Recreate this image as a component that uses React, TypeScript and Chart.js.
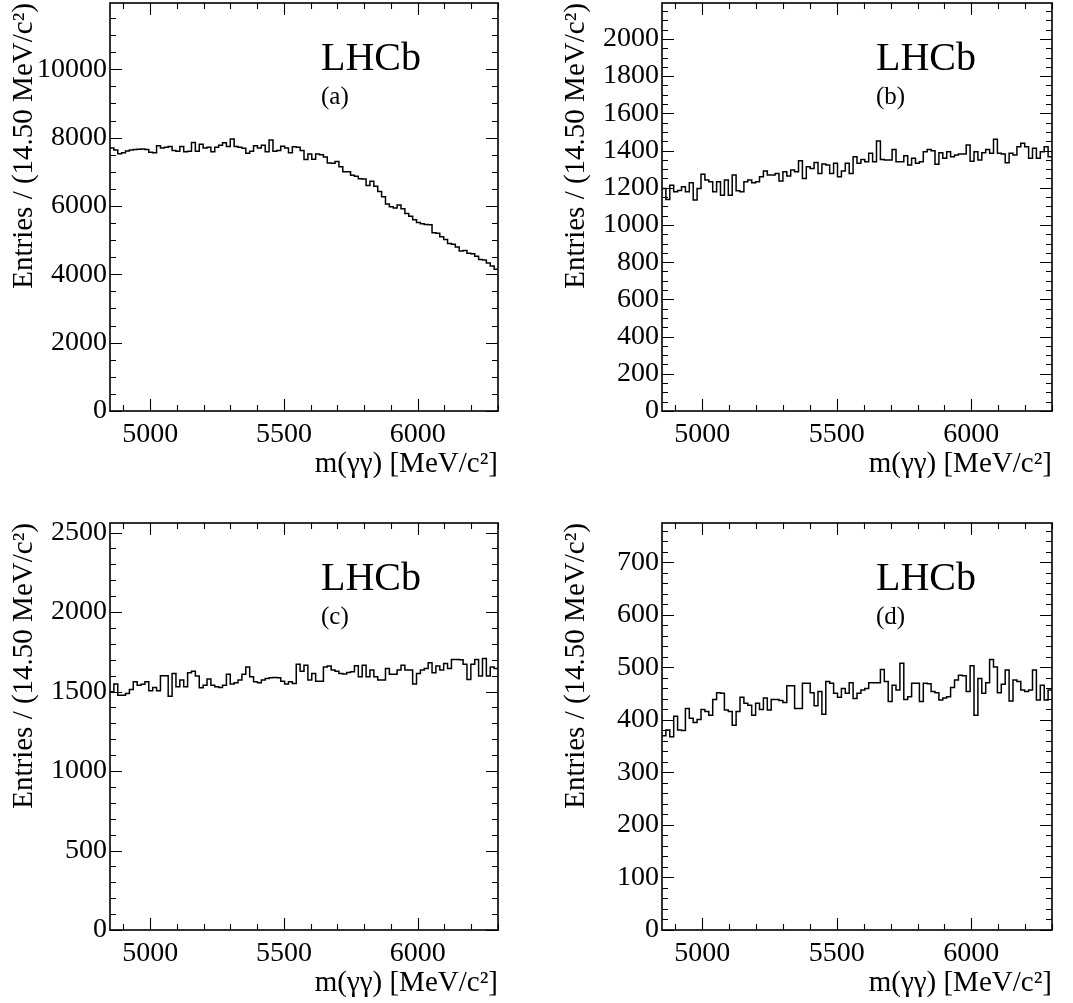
import { useEffect, useRef } from 'react';
import { Chart, registerables } from 'chart.js';

Chart.register(...registerables);

// ---------------- data ----------------
const X_MIN = 4850;
const X_MAX = 6300;
const BIN_WIDTH = 14.5;
const xTickValues = [5000, 5500, 6000];
const X_MINOR_STEP = 100;

const experimentLabel = 'LHCb';
const panelTags = ['(a)', '(b)', '(c)', '(d)'];
const yAxisTitle = 'Entries / (14.50 MeV/c\u00B2)';
const xAxisTitle = 'm(\u03B3\u03B3) [MeV/c\u00B2]';

const countsA = [
  7700, 7640, 7530, 7560, 7610, 7640, 7650, 7660, 7670, 7650,
  7570, 7560, 7760, 7700, 7720, 7740, 7620, 7600, 7740, 7590,
  7600, 7860, 7600, 7810, 7700, 7720, 7590, 7720, 7780, 7850,
  7740, 7960, 7740, 7720, 7690, 7540, 7600, 7760, 7700, 7780,
  7590, 7930, 7600, 7620, 7750, 7700, 7560, 7730, 7720, 7620,
  7360, 7520, 7370, 7520, 7500, 7430, 7260, 7250, 7300, 7150,
  7000, 7000, 6900, 6870, 6800, 6790, 6600, 6720, 6580, 6420,
  6270, 6060, 5980, 5940, 6030, 5920, 5780, 5700, 5600, 5520,
  5480, 5460, 5450, 5220, 5200, 5100, 5020, 4900, 4880, 4800,
  4680, 4700, 4620, 4600, 4530, 4430, 4420, 4330, 4240, 4150,
];
const countsB = [
  1196, 1137, 1214, 1178, 1185, 1205, 1178, 1227, 1134, 1196,
  1272, 1241, 1232, 1178, 1232, 1160, 1241, 1160, 1268, 1184,
  1178, 1232, 1241, 1227, 1232, 1259, 1290, 1268, 1268, 1277,
  1236, 1286, 1263, 1295, 1286, 1345, 1250, 1313, 1304, 1336,
  1277, 1327, 1322, 1277, 1331, 1259, 1290, 1331, 1277, 1367,
  1331, 1352, 1340, 1385, 1340, 1451, 1352, 1349, 1349, 1406,
  1340, 1340, 1372, 1322, 1358, 1331, 1340, 1394, 1406, 1399,
  1326, 1388, 1358, 1394, 1367, 1376, 1381, 1381, 1430, 1343,
  1394, 1349, 1388, 1406, 1385, 1460, 1385, 1381, 1335, 1385,
  1376, 1421, 1439, 1421, 1358, 1412, 1358, 1394, 1421, 1367,
];
const countsC = [
  1498, 1547, 1477, 1477, 1488, 1513, 1561, 1540, 1545, 1561,
  1505, 1526, 1505, 1599, 1599, 1471, 1614, 1530, 1572, 1530,
  1618, 1628, 1597, 1523, 1540, 1578, 1540, 1530, 1526, 1540,
  1609, 1547, 1555, 1572, 1609, 1655, 1593, 1561, 1555, 1572,
  1582, 1586, 1588, 1586, 1565, 1547, 1561, 1550, 1672, 1628,
  1666, 1572, 1614, 1565, 1565, 1655, 1660, 1635, 1628, 1614,
  1610, 1620, 1625, 1662, 1593, 1666, 1593, 1635, 1593, 1572,
  1572, 1645, 1609, 1609, 1635, 1666, 1635, 1635, 1547, 1614,
  1635, 1645, 1681, 1618, 1660, 1635, 1676, 1645, 1702, 1702,
  1700, 1672, 1576, 1672, 1702, 1597, 1708, 1597, 1655, 1645,
];
const countsD = [
  370, 381, 368, 407, 381, 380, 422, 403, 395, 401,
  420, 416, 409, 439, 452, 451, 419, 416, 390, 416,
  443, 432, 428, 409, 432, 420, 442, 419, 439, 439,
  437, 433, 465, 465, 422, 422, 470, 470, 452, 427,
  454, 411, 473, 470, 451, 443, 460, 451, 471, 441,
  451, 457, 460, 471, 471, 471, 496, 473, 435, 466,
  457, 508, 439, 444, 470, 470, 435, 470, 469, 454,
  452, 438, 442, 444, 462, 476, 485, 484, 454, 503,
  409, 479, 451, 471, 515, 501, 452, 468, 495, 436,
  476, 473, 457, 454, 457, 495, 438, 466, 438, 457,
];

const yTicksA = [0, 2000, 4000, 6000, 8000, 10000];
const yTicksB = [0, 200, 400, 600, 800, 1000, 1200, 1400, 1600, 1800, 2000];
const yTicksC = [0, 500, 1000, 1500, 2000, 2500];
const yTicksD = [0, 100, 200, 300, 400, 500, 600, 700];
const yMaxValues = [11940, 2193, 2560, 775];
const yMinorSteps = [500, 50, 100, 20];

// ---------------- style / layout ----------------
const FONT = '"Liberation Serif", "Times New Roman", Times, serif';
const MAJOR_LEN = 12;
const MINOR_LEN = 6;

type Box = { l: number; t: number; w: number; h: number; padRight: number; labelDx: number };

const boxes: Box[] = [
  { l: 0, t: 0, w: 536, h: 484, padRight: 38, labelDx: 211 },
  { l: 552, t: 0, w: 521, h: 484, padRight: 21, labelDx: 214 },
  { l: 0, t: 520, w: 536, h: 483, padRight: 38, labelDx: 211 },
  { l: 552, t: 520, w: 521, h: 483, padRight: 21, labelDx: 214 },
];

const framePlugin = {
  id: 'rootFrame',
  afterDraw(chart: any, _args: any, opts: any) {
    const { ctx, chartArea: ca, scales } = chart;
    const x = scales.x;
    const y = scales.y;
    ctx.save();
    // ticks
    ctx.strokeStyle = '#000';
    ctx.lineWidth = 1.1;
    ctx.beginPath();
    for (let v = Math.ceil(X_MIN / X_MINOR_STEP) * X_MINOR_STEP; v <= X_MAX; v += X_MINOR_STEP) {
      const px = Math.round(x.getPixelForValue(v)) + 0.5;
      const len = xTickValues.includes(v) ? MAJOR_LEN : MINOR_LEN;
      ctx.moveTo(px, ca.bottom);
      ctx.lineTo(px, ca.bottom - len);
      ctx.moveTo(px, ca.top);
      ctx.lineTo(px, ca.top + len);
    }
    const yMajors: number[] = opts.yTicks;
    for (let v = 0; v <= opts.yMax; v += opts.yMinor) {
      const py = Math.round(y.getPixelForValue(v)) + 0.5;
      const len = yMajors.includes(v) ? MAJOR_LEN : MINOR_LEN;
      ctx.moveTo(ca.left, py);
      ctx.lineTo(ca.left + len, py);
      ctx.moveTo(ca.right, py);
      ctx.lineTo(ca.right - len, py);
    }
    ctx.stroke();
    // frame
    ctx.lineWidth = 1.6;
    ctx.strokeRect(ca.left, ca.top, ca.right - ca.left, ca.bottom - ca.top);
    // labels
    ctx.fillStyle = '#000';
    ctx.textAlign = 'left';
    ctx.textBaseline = 'alphabetic';
    ctx.font = `40px ${FONT}`;
    ctx.fillText(experimentLabel, ca.left + opts.labelDx, ca.top + 67);
    ctx.font = `25px ${FONT}`;
    ctx.fillText(opts.tag, ca.left + opts.labelDx, ca.top + 101);
    ctx.restore();
  },
};

type PanelProps = {
  counts: number[];
  yTicks: number[];
  yMax: number;
  yMinor: number;
  tag: string;
  box: Box;
};

function Panel({ counts, yTicks, yMax, yMinor, tag, box }: PanelProps) {
  const ref = useRef<HTMLCanvasElement | null>(null);
  useEffect(() => {
    if (!ref.current) return;
    const points = counts.map((c, i) => ({ x: X_MIN + i * BIN_WIDTH, y: c }));
    points.push({ x: X_MIN + counts.length * BIN_WIDTH, y: counts[counts.length - 1] });
    const zeroPad = (s: any) => {
      s.paddingLeft = 0;
      s.paddingRight = 0;
      s.paddingTop = 0;
      s.paddingBottom = 0;
    };
    const chart = new Chart(ref.current, {
      type: 'line',
      data: {
        datasets: [
          {
            data: points,
            stepped: true,
            borderColor: '#000',
            borderWidth: 1.5,
            pointRadius: 0,
            fill: false,
          },
        ],
      },
      options: {
        animation: false,
        responsive: false,
        maintainAspectRatio: false,
        events: [],
        layout: { padding: { left: 0, top: 3, right: box.padRight, bottom: 0 } },
        plugins: {
          legend: { display: false },
          tooltip: { enabled: false },
          rootFrame: { yTicks, yMax, yMinor, tag, labelDx: box.labelDx },
        } as any,
        scales: {
          x: {
            type: 'linear',
            min: X_MIN,
            max: X_MAX,
            grid: { display: false, drawTicks: false },
            border: { display: false },
            afterBuildTicks: (s: any) => {
              s.ticks = xTickValues.map((v) => ({ value: v }));
            },
            afterFit: (s: any) => {
              s.height = 73;
              zeroPad(s);
            },
            ticks: {
              autoSkip: false,
              maxRotation: 0,
              minRotation: 0,
              padding: 7,
              color: '#000',
              font: { family: FONT, size: 28 },
              callback: (v: any) => String(v),
            },
            title: {
              display: true,
              text: xAxisTitle,
              align: 'end',
              color: '#000',
              font: { family: FONT, size: 29 },
              padding: { top: 0, bottom: 2 },
            },
          },
          y: {
            type: 'linear',
            min: 0,
            max: yMax,
            grid: { display: false, drawTicks: false },
            border: { display: false },
            afterBuildTicks: (s: any) => {
              s.ticks = yTicks.map((v) => ({ value: v }));
            },
            afterFit: (s: any) => {
              s.width = 110;
              zeroPad(s);
            },
            ticks: {
              autoSkip: false,
              padding: 3,
              color: '#000',
              font: { family: FONT, size: 28 },
              callback: (v: any) => String(v),
            },
            title: {
              display: true,
              text: yAxisTitle,
              align: 'end',
              color: '#000',
              font: { family: FONT, size: 29 },
              padding: { top: 7, bottom: 0 },
            },
          },
        },
      } as any,
      plugins: [framePlugin],
    });
    return () => chart.destroy();
  }, [counts, yTicks, yMax, yMinor, tag, box]);
  return (
    <canvas
      ref={ref}
      width={box.w}
      height={box.h}
      style={{ position: 'absolute', left: box.l, top: box.t, width: box.w, height: box.h }}
    />
  );
}

const allCounts = [countsA, countsB, countsC, countsD];
const allYTicks = [yTicksA, yTicksB, yTicksC, yTicksD];

export default function App() {
  return (
    <div
      style={{
        position: 'fixed',
        left: 0,
        top: 0,
        width: 1073,
        height: 1003,
        background: '#fff',
        overflow: 'hidden',
      }}
    >
      {allCounts.map((counts, i) => (
        <Panel
          key={i}
          counts={counts}
          yTicks={allYTicks[i]}
          yMax={yMaxValues[i]}
          yMinor={yMinorSteps[i]}
          tag={panelTags[i]}
          box={boxes[i]}
        />
      ))}
    </div>
  );
}
